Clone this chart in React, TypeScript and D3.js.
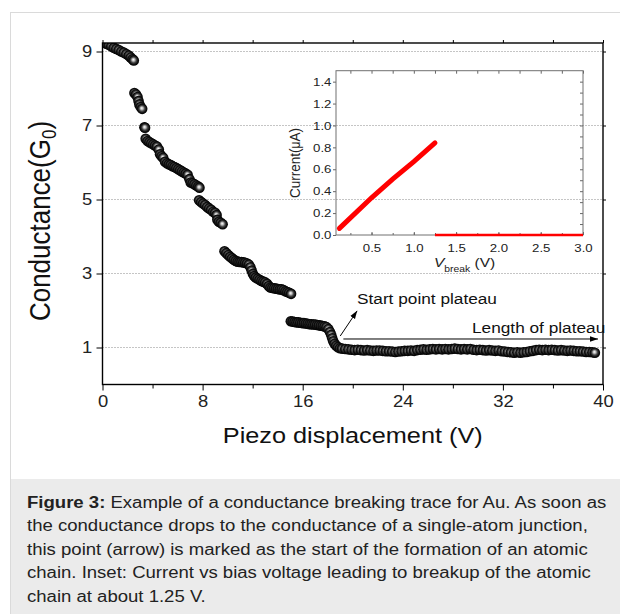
import React, { useEffect, useRef } from 'react';
import * as d3 from 'd3';

// ---- main trace: [piezo displacement (V), conductance (G0)]
const traceTop = [
    [0.10, 9.24], [0.30, 9.21], [0.50, 9.18], [0.70, 9.14], [0.90, 9.10], [1.10, 9.07],
    [1.30, 9.04], [1.50, 9.00], [1.70, 8.97], [1.90, 8.93], [2.10, 8.89], [2.25, 8.84],
    [2.40, 8.79], [2.50, 8.76],
];
const traceSecond = [
    [2.55, 7.88], [2.68, 7.84], [2.80, 7.77], [2.88, 7.66], [2.95, 7.57], [3.05, 7.50],
    [3.17, 7.45], [3.35, 6.95], [3.40, 6.94],
];
const traceThird = [
    [3.45, 6.64], [3.60, 6.58], [3.75, 6.55], [3.90, 6.52], [4.05, 6.49], [4.20, 6.46],
    [4.35, 6.43], [4.50, 6.35], [4.60, 6.22], [4.72, 6.17], [4.85, 6.13], [5.00, 6.02],
    [5.15, 5.98], [5.30, 5.95], [5.45, 5.93], [5.60, 5.90], [5.75, 5.88], [5.90, 5.85],
    [6.05, 5.82], [6.20, 5.79], [6.35, 5.76], [6.50, 5.73], [6.65, 5.70], [6.80, 5.67],
    [6.95, 5.55], [7.05, 5.46], [7.20, 5.44], [7.35, 5.41], [7.50, 5.38], [7.65, 5.35],
    [7.75, 5.32],
];
const traceFourth = [
    [7.72, 4.98], [7.88, 4.93], [8.04, 4.89], [8.20, 4.85], [8.36, 4.80], [8.52, 4.76],
    [8.68, 4.72], [8.84, 4.67], [9.00, 4.64], [9.12, 4.58], [9.18, 4.45], [9.30, 4.40],
    [9.45, 4.37], [9.60, 4.33],
];
const traceFifth = [
    [9.75, 3.60], [9.90, 3.55], [10.05, 3.50], [10.20, 3.45], [10.35, 3.41], [10.50, 3.37],
    [10.65, 3.34], [10.80, 3.32], [10.95, 3.31], [11.10, 3.31], [11.25, 3.30], [11.40, 3.29],
    [11.55, 3.27], [11.70, 3.24], [11.82, 3.17], [11.92, 3.08], [12.02, 2.99], [12.12, 2.93],
    [12.25, 2.89], [12.40, 2.86], [12.55, 2.83], [12.70, 2.80], [12.85, 2.78], [13.00, 2.76],
    [13.15, 2.72], [13.28, 2.66], [13.42, 2.62], [13.57, 2.61], [13.72, 2.60], [13.87, 2.59],
    [14.02, 2.58], [14.17, 2.57], [14.32, 2.57], [14.47, 2.55], [14.62, 2.52], [14.77, 2.50],
    [14.92, 2.48], [15.07, 2.45],
];
const traceSixth = [
    [15.05, 1.71], [15.20, 1.70], [15.35, 1.69], [15.50, 1.68], [15.65, 1.68], [15.80, 1.67],
    [15.95, 1.66], [16.10, 1.66], [16.25, 1.65], [16.40, 1.64], [16.55, 1.63], [16.70, 1.63],
    [16.85, 1.62], [17.00, 1.62], [17.15, 1.61], [17.30, 1.60], [17.45, 1.59], [17.60, 1.58],
    [17.75, 1.57], [17.90, 1.55], [18.05, 1.50], [18.18, 1.42], [18.28, 1.34], [18.36, 1.25],
    [18.44, 1.17], [18.55, 1.10], [18.68, 1.05], [18.82, 1.01], [18.98, 0.98],
];
const tracePlateau = [
    [19.15, 0.97], [19.40, 0.96], [19.65, 0.95], [19.90, 0.94], [20.15, 0.93], [20.40, 0.94],
    [20.65, 0.93], [20.90, 0.92], [21.15, 0.93], [21.40, 0.92], [21.65, 0.91], [21.90, 0.92],
    [22.15, 0.92], [22.40, 0.91], [22.65, 0.90], [22.90, 0.90], [23.15, 0.89], [23.40, 0.88],
    [23.65, 0.89], [23.90, 0.90], [24.15, 0.91], [24.40, 0.91], [24.65, 0.92], [24.90, 0.91],
    [25.15, 0.93], [25.40, 0.94], [25.65, 0.95], [25.90, 0.94], [26.15, 0.95], [26.40, 0.96],
    [26.65, 0.95], [26.90, 0.96], [27.15, 0.95], [27.40, 0.96], [27.65, 0.95], [27.90, 0.96],
    [28.15, 0.97], [28.40, 0.96], [28.65, 0.95], [28.90, 0.96], [29.15, 0.95], [29.40, 0.96],
    [29.65, 0.94], [29.90, 0.93], [30.15, 0.94], [30.40, 0.93], [30.65, 0.92], [30.90, 0.93],
    [31.15, 0.92], [31.40, 0.91], [31.65, 0.92], [31.90, 0.90], [32.15, 0.89], [32.40, 0.88],
    [32.65, 0.87], [32.90, 0.86], [33.15, 0.87], [33.40, 0.86], [33.65, 0.87], [33.90, 0.88],
    [34.15, 0.90], [34.40, 0.91], [34.65, 0.93], [34.90, 0.94], [35.15, 0.93], [35.40, 0.94],
    [35.65, 0.93], [35.90, 0.94], [36.15, 0.93], [36.40, 0.92], [36.65, 0.93], [36.90, 0.92],
    [37.15, 0.91], [37.40, 0.92], [37.65, 0.91], [37.90, 0.90], [38.15, 0.90], [38.40, 0.89],
    [38.65, 0.88], [38.90, 0.88], [39.15, 0.87], [39.35, 0.86],
];
const traceSegments = [traceTop, traceSecond, traceThird, traceFourth, traceFifth, traceSixth, tracePlateau];

const xTicks = [0, 8, 16, 24, 32, 40];
const xMinorTicks = [4, 12, 20, 28, 36];
const yTicks = [1, 3, 5, 7, 9];

// annotation arrows, data coords
const startArrow = [[19.0, 1.31], [20.35, 1.99]];
const plateauArrow = [[19.25, 1.23], [39.6, 1.23]];

// ---- inset: current (uA) vs V_break (V)
const insetRise = [[0.12, 0.06], [0.50, 0.34], [0.75, 0.51], [1.00, 0.67], [1.25, 0.84]];
const insetBreak = [[1.25, 0.0], [3.0, 0.0]];
const insetXTicks = [0.5, 1.0, 1.5, 2.0, 2.5, 3.0];
const insetYTicks = [0.0, 0.2, 0.4, 0.6, 0.8, 1.0, 1.2, 1.4];

const captionLead = 'Figure 3:';
const captionLines = [
    ' Example of a conductance breaking trace for Au. As soon as',
    'the conductance drops to the conductance of a single-atom junction,',
    'this point (arrow) is marked as the start of the formation of an atomic',
    'chain. Inset: Current vs bias voltage leading to breakup of the atomic',
    'chain at about 1.25 V.',
];

const FONT = '"Liberation Sans", Arial, Helvetica, sans-serif';
const STRETCH = 1.15; // the picture is a little wide

function App() {
    const svgRef = useRef<SVGSVGElement>(null);

    useEffect(() => {
        if (!svgRef.current) return;
        const svg = d3.select(svgRef.current);
        svg.selectAll('*').remove();

        // page frame + caption box
        svg.append('rect').attr('width', 620).attr('height', 614).attr('fill', '#fff');
        svg.append('rect').attr('x', 10.5).attr('y', 12.5).attr('width', 640).attr('height', 640)
            .attr('fill', 'none').attr('stroke', '#dadada');
        svg.append('rect').attr('x', 11).attr('y', 479).attr('width', 620).attr('height', 140)
            .attr('fill', '#ebebeb');

        const x = d3.scaleLinear().domain([0, 40]).range([102.5, 603]);
        const y = d3.scaleLinear().domain([0, 9.23]).range([384.5, 43]);

        const defs = svg.append('defs');
        const grad = defs.append('radialGradient').attr('id', 'ball')
            .attr('cx', '50%').attr('cy', '50%').attr('r', '50%').attr('fx', '45%').attr('fy', '42%');
        grad.append('stop').attr('offset', '0%').attr('stop-color', '#ffffff');
        grad.append('stop').attr('offset', '28%').attr('stop-color', '#b4b4b4');
        grad.append('stop').attr('offset', '52%').attr('stop-color', '#4a4a4a');
        grad.append('stop').attr('offset', '78%').attr('stop-color', '#111');
        grad.append('stop').attr('offset', '100%').attr('stop-color', '#000');
        defs.append('clipPath').attr('id', 'plotClip').append('rect')
            .attr('x', x(0)).attr('y', y(9.23)).attr('width', x(40) - x(0)).attr('height', y(0) - y(9.23));
        defs.append('marker').attr('id', 'arrow').attr('viewBox', '0 0 10 10')
            .attr('refX', 10).attr('refY', 5).attr('markerWidth', 8).attr('markerHeight', 8)
            .attr('markerUnits', 'userSpaceOnUse').attr('orient', 'auto')
            .append('path').attr('d', 'M0,1.5 L10,5 L0,8.5 z').attr('fill', '#000');

        // dotted grid
        svg.append('g').selectAll('line').data(yTicks).enter().append('line')
            .attr('x1', x(0)).attr('x2', x(40))
            .attr('y1', d => y(d)).attr('y2', d => y(d))
            .attr('stroke', '#8a8a8a').attr('stroke-width', 1).attr('stroke-dasharray', '1,2');

        const styleAxis = (g, color, size) => {
            g.select('.domain').remove();
            g.selectAll('.tick line').attr('stroke', color).attr('stroke-width', 1.2);
            g.selectAll('.tick text').attr('fill', '#222').attr('font-size', size)
                .attr('font-family', FONT).attr('transform', `scale(${STRETCH},1)`);
        };

        // main axes
        svg.append('g').attr('transform', `translate(0,${y(0)})`)
            .call(d3.axisBottom(x).tickValues(xTicks).tickSize(6).tickPadding(5))
            .call(g => styleAxis(g, '#000', 16));
        svg.append('g').attr('transform', `translate(0,${y(0)})`)
            .call(d3.axisBottom(x).tickValues(xMinorTicks).tickSize(4).tickFormat(() => ''))
            .call(g => styleAxis(g, '#000', 16));
        svg.append('g').attr('transform', `translate(0,${y(9.23)})`)
            .call(d3.axisTop(x).tickValues([...xTicks, ...xMinorTicks]).tickSize(3).tickFormat(() => ''))
            .call(g => styleAxis(g, '#000', 16));
        svg.append('g').attr('transform', `translate(${x(0)},0)`)
            .call(d3.axisLeft(y).tickValues(yTicks).tickSize(6).tickPadding(3).tickFormat(d3.format('d')))
            .call(g => styleAxis(g, '#000', 16));
        svg.append('g').attr('transform', `translate(${x(40)},0)`)
            .call(d3.axisRight(y).tickValues(yTicks).tickSize(3).tickFormat(() => ''))
            .call(g => styleAxis(g, '#000', 16));

        // inset
        const ix = d3.scaleLinear().domain([0.08, 3.0]).range([336, 583]);
        const iy = d3.scaleLinear().domain([0, 1.5]).range([235, 70.7]);
        const minorX = d3.range(0.25, 3.01, 0.25);
        const minorY = d3.range(0.1, 1.45, 0.1);

        svg.append('g').attr('transform', `translate(0,${iy(0)})`)
            .call(d3.axisBottom(ix).tickValues(insetXTicks).tickSize(-3).tickPadding(9).tickFormat(d3.format('.1f')))
            .call(g => styleAxis(g, '#666', 11.5));
        svg.append('g').attr('transform', `translate(0,${iy(0)})`)
            .call(d3.axisBottom(ix).tickValues(minorX).tickSize(-2).tickFormat(() => ''))
            .call(g => styleAxis(g, '#666', 11.5));
        svg.append('g').attr('transform', `translate(0,${iy(1.5)})`)
            .call(d3.axisTop(ix).tickValues(minorX).tickSize(-3).tickFormat(() => ''))
            .call(g => styleAxis(g, '#666', 11.5));
        svg.append('g').attr('transform', `translate(${ix(0.08)},0)`)
            .call(d3.axisLeft(iy).tickValues(insetYTicks).tickSize(3).tickPadding(1).tickFormat(d3.format('.1f')))
            .call(g => styleAxis(g, '#666', 11.5));
        svg.append('g').attr('transform', `translate(${ix(3.0)},0)`)
            .call(d3.axisRight(iy).tickValues(minorY).tickSize(-3).tickFormat(() => ''))
            .call(g => styleAxis(g, '#666', 11.5));
        svg.selectAll('.tick line').attr('stroke-width', 1);

        svg.append('rect').attr('x', ix(0.08)).attr('y', iy(1.5))
            .attr('width', ix(3.0) - ix(0.08)).attr('height', iy(0) - iy(1.5))
            .attr('fill', 'none').attr('stroke', '#707070').attr('stroke-width', 1);

        const iline = d3.line().x(d => ix(d[0])).y(d => iy(d[1]));
        svg.append('path').attr('d', iline(insetRise)).attr('fill', 'none')
            .attr('stroke', '#f00').attr('stroke-width', 5).attr('stroke-linecap', 'round');
        svg.append('path').attr('d', iline(insetBreak)).attr('fill', 'none')
            .attr('stroke', '#f00').attr('stroke-width', 2.6);

        // inset titles
        const ylab = svg.append('text')
            .attr('transform', `translate(300,163) rotate(-90) scale(1,${STRETCH})`)
            .attr('text-anchor', 'middle').attr('font-family', FONT).attr('font-size', 13.5).attr('fill', '#222');
        ylab.append('tspan').text('Current(');
        ylab.append('tspan').attr('font-size', 12).text('μ');
        ylab.append('tspan').text('A)');

        const xlab = svg.append('text')
            .attr('transform', `translate(434,267) scale(${STRETCH},1)`)
            .attr('font-family', FONT).attr('font-size', 13.5).attr('fill', '#222');
        xlab.append('tspan').attr('font-style', 'italic').text('V');
        xlab.append('tspan').attr('font-size', 9).attr('dy', 5).text('break');
        xlab.append('tspan').attr('dy', -5).text(' (V)');

        // main trace spheres
        const balls = svg.append('g').attr('clip-path', 'url(#plotClip)');
        traceSegments.forEach(seg => {
            balls.append('g').selectAll('circle').data(seg).enter().append('circle')
                .attr('cx', d => x(d[0])).attr('cy', d => y(d[1])).attr('r', 5.3)
                .attr('fill', 'url(#ball)');
        });

        // main frame
        svg.append('rect').attr('x', x(0)).attr('y', y(9.23))
            .attr('width', x(40) - x(0)).attr('height', y(0) - y(9.23))
            .attr('fill', 'none').attr('stroke', '#000').attr('stroke-width', 1.4);

        // annotations
        const mline = d3.line().x(d => x(d[0])).y(d => y(d[1]));
        svg.append('path').attr('d', mline(startArrow)).attr('stroke', '#000').attr('stroke-width', 1)
            .attr('fill', 'none').attr('marker-end', 'url(#arrow)');
        svg.append('path').attr('d', mline(plateauArrow)).attr('stroke', '#000').attr('stroke-width', 1)
            .attr('fill', 'none').attr('marker-end', 'url(#arrow)');

        const note = (tx, ty, str) => svg.append('text')
            .attr('transform', `translate(${tx},${ty}) scale(${STRETCH},1)`)
            .attr('font-family', FONT).attr('font-size', 15).attr('fill', '#111').text(str);
        note(357, 304, 'Start point plateau');
        note(472, 333, 'Length of plateau');

        // axis titles
        svg.append('text')
            .attr('transform', `translate(${(x(0) + x(40)) / 2},442.5) scale(${STRETCH},1)`)
            .attr('text-anchor', 'middle').attr('font-family', FONT).attr('font-size', 22)
            .attr('fill', '#111').text('Piezo displacement (V)');
        const ytitle = svg.append('text')
            .attr('transform', `translate(50,221) rotate(-90) scale(1,${STRETCH})`)
            .attr('text-anchor', 'middle').attr('font-family', FONT).attr('font-size', 26).attr('fill', '#111');
        ytitle.append('tspan').text('Conductance(G');
        ytitle.append('tspan').attr('font-size', 17).attr('dy', 5).text('0');
        ytitle.append('tspan').attr('dy', -5).text(')');

        // caption
        const cap = svg.append('g').attr('font-family', FONT).attr('font-size', 16).attr('fill', '#222');
        captionLines.forEach((line, i) => {
            const t = cap.append('text').attr('transform', `translate(27,${507.5 + i * 23.5}) scale(1.16,1)`);
            if (i === 0) t.append('tspan').attr('font-weight', 'bold').text(captionLead);
            t.append('tspan').text(line);
        });
    }, []);

    return (
        <div style={{ position: 'absolute', left: 0, top: 0 }}>
            <svg ref={svgRef} width={620} height={614} style={{ display: 'block' }} />
        </div>
    );
}

export default App;
